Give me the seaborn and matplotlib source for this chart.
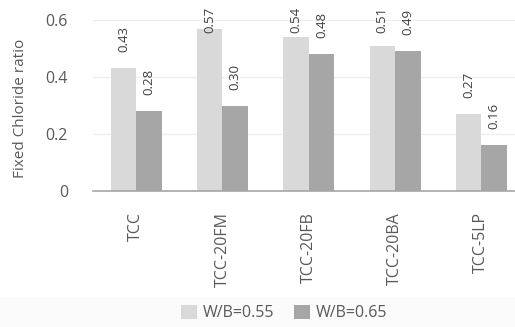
import pandas as pd
import numpy as np
import matplotlib.pyplot as plt
import matplotlib.patches as mpatches
import seaborn as sns

# Data
mixes = ['TCC', 'TCC-20FM', 'TCC-20FB', 'TCC-20BA', 'TCC-5LP']
series = ['W/B=0.55', 'W/B=0.65']
wb055 = [0.43, 0.57, 0.54, 0.51, 0.27]
wb065 = [0.28, 0.30, 0.48, 0.49, 0.16]
colors = ['#d9d9d9', '#a6a6a6']

df = pd.DataFrame({
    'Mix': mixes * 2,
    'Series': [series[0]] * len(mixes) + [series[1]] * len(mixes),
    'Ratio': wb055 + wb065,
})

sns.set_style('white')
plt.rcParams['font.family'] = ['Open Sans', 'DejaVu Sans']

fig = plt.figure(figsize=(5.15, 3.27), dpi=100)
# faint band behind the legend
fig.patches.append(mpatches.Rectangle((0, 0), 1, 30 / 327, transform=fig.transFigure,
                                      facecolor='#fbfbfb', edgecolor='none', zorder=0))
ax = fig.add_axes([93 / 515, 136 / 327, 1 - 93 / 515, 171 / 327])

sns.barplot(data=df, x='Mix', y='Ratio', hue='Series', palette=colors,
            width=0.59, gap=0, ax=ax, legend=False, saturation=1, linewidth=0)

# value labels, pushed down when they would run off the top (like Excel does)
for cont in ax.containers:
    for bar in cont:
        h = bar.get_height()
        ax.text(bar.get_x() + bar.get_width() / 2, min(h + 0.056, 0.555), f'{h:.2f}',
                rotation=90, ha='center', va='bottom', fontsize=9.5,
                color='#404040', clip_on=False)

ax.set_ylim(0, 0.6)
ax.set_xlim(-0.5, 4.39)
ax.set_yticks([0, 0.2, 0.4, 0.6])
ax.set_yticklabels(['0', '0.2', '0.4', '0.6'])
ax.yaxis.grid(True, color='#efefef', linewidth=1)
ax.set_axisbelow(True)
for side in ['top', 'right', 'left']:
    ax.spines[side].set_visible(False)
ax.spines['bottom'].set_color('#a6a6a6')
ax.spines['bottom'].set_linewidth(1.2)
ax.tick_params(axis='y', length=0, pad=18, labelsize=11.5, labelcolor='#595959')
ax.tick_params(axis='x', length=0, pad=15, labelsize=11.5, labelcolor='#595959', rotation=90)
ax.set_xlabel('')
ax.set_ylabel('Fixed Chloride ratio', fontsize=11, color='#595959')
ax.yaxis.set_label_coords(-0.155, 0.485)

handles = [mpatches.Patch(facecolor=c, edgecolor='none', label=s) for c, s in zip(colors, series)]
fig.legend(handles=handles, loc='center', bbox_to_anchor=(284 / 515, 14 / 327), ncol=2,
           frameon=False, fontsize=11.5, labelcolor='#595959', handlelength=1.0,
           handleheight=1.0, handletextpad=0.4, columnspacing=1.2)

fig.savefig('out.png', dpi=100)
